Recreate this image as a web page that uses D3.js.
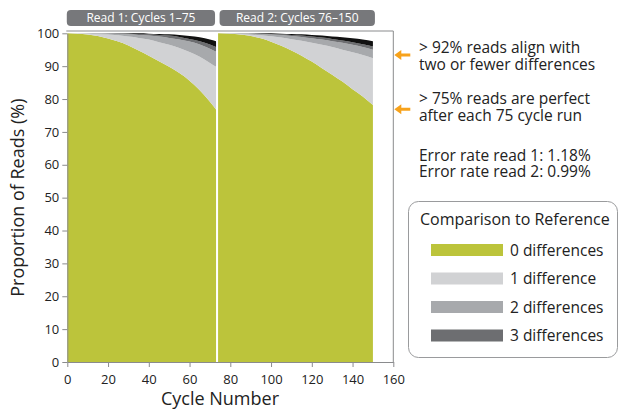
<!DOCTYPE html>
<html>
<head>
<meta charset="utf-8">
<script src="https://cdn.jsdelivr.net/npm/d3@7"></script>
<style>
  body { margin: 0; background: #fff; }
  svg { display: block; font-family: "Open Sans", Lato, sans-serif; }
</style>
</head>
<body>
<svg id="chart" width="621" height="411"></svg>
<script>
// cycles for each read
var read1Cycles = [0, 10, 20, 30, 35, 40, 45, 50, 55, 60, 65, 70, 73];
var read2Cycles = [74, 85, 95, 105, 110, 115, 120, 125, 130, 135, 140, 145, 150];

// cumulative % of reads (top of each band)
var read1Zero  = [100, 99.6, 98.4, 96.3, 94.8, 93.2, 91.5, 89.8, 87.9, 85.6, 82.7, 79.2, 76.8];
var read1One   = [100, 99.9, 99.6, 99.0, 98.6, 98.1, 97.3, 96.5, 95.5, 94.3, 92.9, 91.0, 89.8];
var read1Two   = [100, 100, 99.9, 99.7, 99.5, 99.3, 99.0, 98.6, 98.1, 97.5, 96.6, 95.3, 94.4];
var read1Three = [100, 100, 100, 99.9, 99.8, 99.7, 99.5, 99.3, 98.9, 98.3, 97.6, 96.6, 95.8];
var read1More  = [100, 100, 100, 100, 100, 99.9, 99.8, 99.7, 99.5, 99.2, 98.8, 98.1, 97.6];

var read2Zero  = [100, 99.6, 98.5, 96.2, 94.8, 93.2, 91.4, 89.4, 87.4, 85.3, 83.0, 80.8, 78.2];
var read2One   = [100, 99.8, 99.4, 98.7, 98.2, 97.7, 97.1, 96.5, 95.8, 95.0, 94.2, 93.4, 92.4];
var read2Two   = [100, 100, 99.8, 99.5, 99.2, 98.9, 98.5, 98.1, 97.6, 97.1, 96.5, 95.8, 95.0];
var read2Three = [100, 100, 99.9, 99.7, 99.5, 99.3, 99.0, 98.7, 98.3, 97.8, 97.3, 96.7, 96.0];
var read2More  = [100, 100, 100, 99.9, 99.8, 99.7, 99.5, 99.3, 99.0, 98.8, 98.5, 98.1, 97.6];

var bandColors = ["#bcc43b", "#d1d2d4", "#a7a9ac", "#6d6e71", "#111111"];
var legendLabels = ["0 differences", "1 difference", "2 differences", "3 differences"];
var stripLabels = ["Read 1: Cycles 1\u201375", "Read 2: Cycles 76\u2013150"];
var stripRanges = [[0, 73], [74, 150]];
var xTicks = [0, 20, 40, 60, 80, 100, 120, 140, 160];
var yTicks = [0, 10, 20, 30, 40, 50, 60, 70, 80, 90, 100];
var notes = [
  ["> 92% reads align with", "two or fewer differences"],
  ["> 75% reads are perfect", "after each 75 cycle run"]
];
var noteArrowY = [93.4, 76.9];
var errorLines = ["Error rate read 1: 1.18%", "Error rate read 2: 0.99%"];

var svg = d3.select('#chart');
var plotL = 67.3, plotR = 393.3, plotT = 33.3, plotB = 362;

var x = d3.scaleLinear().domain([0, 160]).range([plotL, plotR]);
var y = d3.scaleLinear().domain([0, 100]).range([plotB, plotT]);

var reads = [
  {cycles: read1Cycles, tops: [read1Zero, read1One, read1Two, read1Three, read1More]},
  {cycles: read2Cycles, tops: [read2Zero, read2One, read2Two, read2Three, read2More]}
];

// bands drawn between consecutive cumulative tops
reads.forEach(function(r){
  r.tops.forEach(function(t, k){
    var pts = r.cycles.map(function(c, i){
      return {c: c, y0: k === 0 ? 0 : r.tops[k-1][i], y1: t[i]};
    });
    var area = d3.area()
      .x(function(d){ return x(d.c); })
      .y0(function(d){ return y(d.y0); })
      .y1(function(d){ return y(d.y1); })
      .curve(d3.curveMonotoneX);
    svg.append('path')
      .datum(pts)
      .attr('d', area)
      .attr('fill', bandColors[k]);
  });
});

// frame top + right
svg.append('line').attr('x1', plotL - 1).attr('x2', plotR).attr('y1', 31).attr('y2', 31)
  .attr('stroke', '#8a8b8d').attr('stroke-width', 1);
svg.append('line').attr('x1', plotR).attr('x2', plotR).attr('y1', 31).attr('y2', plotB)
  .attr('stroke', '#8a8b8d').attr('stroke-width', 1);

// strip labels
stripLabels.forEach(function(s, i){
  var x0 = i === 0 ? x(stripRanges[i][0]) - 0.5 : x(stripRanges[i][0]) + 1.5;
  var x1 = x(stripRanges[i][1]) + (i === 0 ? -1 : 2);
  svg.append('rect')
    .attr('x', x0).attr('y', 10).attr('width', x1 - x0).attr('height', 16)
    .attr('rx', 4).attr('fill', '#77787b');
  svg.append('text')
    .attr('x', (x0 + x1) / 2).attr('y', 22.2)
    .attr('text-anchor', 'middle').attr('fill', '#fff')
    .style('font-size', '12px')
    .text(s);
});

// axes
var xAxis = svg.append('g')
  .attr('transform', 'translate(0,' + plotB + ')')
  .call(d3.axisBottom(x).tickValues(xTicks).tickSize(5).tickSizeOuter(0));
var yAxis = svg.append('g')
  .attr('transform', 'translate(' + plotL + ',0)')
  .call(d3.axisLeft(y).tickValues(yTicks).tickSize(5).tickSizeOuter(0));
[xAxis, yAxis].forEach(function(a){
  a.select('.domain').attr('stroke', '#8a8b8d');
  a.selectAll('.tick line').attr('stroke', '#8a8b8d');
  a.selectAll('.tick text').attr('fill', '#222').style('font-size', '13px')
    .style('font-family', '"Open Sans", Lato, sans-serif');
});
xAxis.selectAll('.tick text').attr('dy', '1.05em');
yAxis.selectAll('.tick text').attr('x', -8);

svg.append('text')
  .attr('x', 220).attr('y', 405)
  .attr('text-anchor', 'middle').attr('fill', '#222')
  .style('font-size', '18px')
  .text('Cycle Number');
svg.append('text')
  .attr('transform', 'translate(24,' + (plotT + plotB) / 2 + ') rotate(-90)')
  .attr('text-anchor', 'middle').attr('fill', '#222')
  .style('font-size', '18px')
  .text('Proportion of Reads (%)');

// annotations
var noteBase = [[52.5, 69.5], [104, 121]];
notes.forEach(function(n, i){
  var ay = y(noteArrowY[i]);
  svg.append('path')
    .attr('d', 'M' + (plotR + 1) + ',' + ay + 'l7,-5l0,3.5l9,0l0,3l-9,0l0,3.5z')
    .attr('fill', '#f7a21b');
  n.forEach(function(line, j){
    svg.append('text')
      .attr('x', 419).attr('y', noteBase[i][j])
      .attr('fill', '#222').style('font-size', '15.5px')
      .text(line);
  });
});
errorLines.forEach(function(line, j){
  svg.append('text')
    .attr('x', 419).attr('y', 160.5 + j * 16.5)
    .attr('fill', '#222').style('font-size', '15.5px')
    .text(line);
});

// legend
var lg = svg.append('g');
lg.append('rect')
  .attr('x', 408.5).attr('y', 201.5).attr('width', 209).attr('height', 156)
  .attr('rx', 10).attr('fill', '#fff').attr('stroke', '#9a9b9d');
lg.append('text')
  .attr('x', 420).attr('y', 224.5).attr('fill', '#222').style('font-size', '16px')
  .text('Comparison to Reference');
legendLabels.forEach(function(l, i){
  var ry = 244 + i * 28.5;
  lg.append('rect')
    .attr('x', 431).attr('y', ry).attr('width', 72).attr('height', 12)
    .attr('fill', bandColors[i]);
  lg.append('text')
    .attr('x', 510).attr('y', ry + 11.5).attr('fill', '#222').style('font-size', '15.5px')
    .text(l);
});
</script>
</body>
</html>
